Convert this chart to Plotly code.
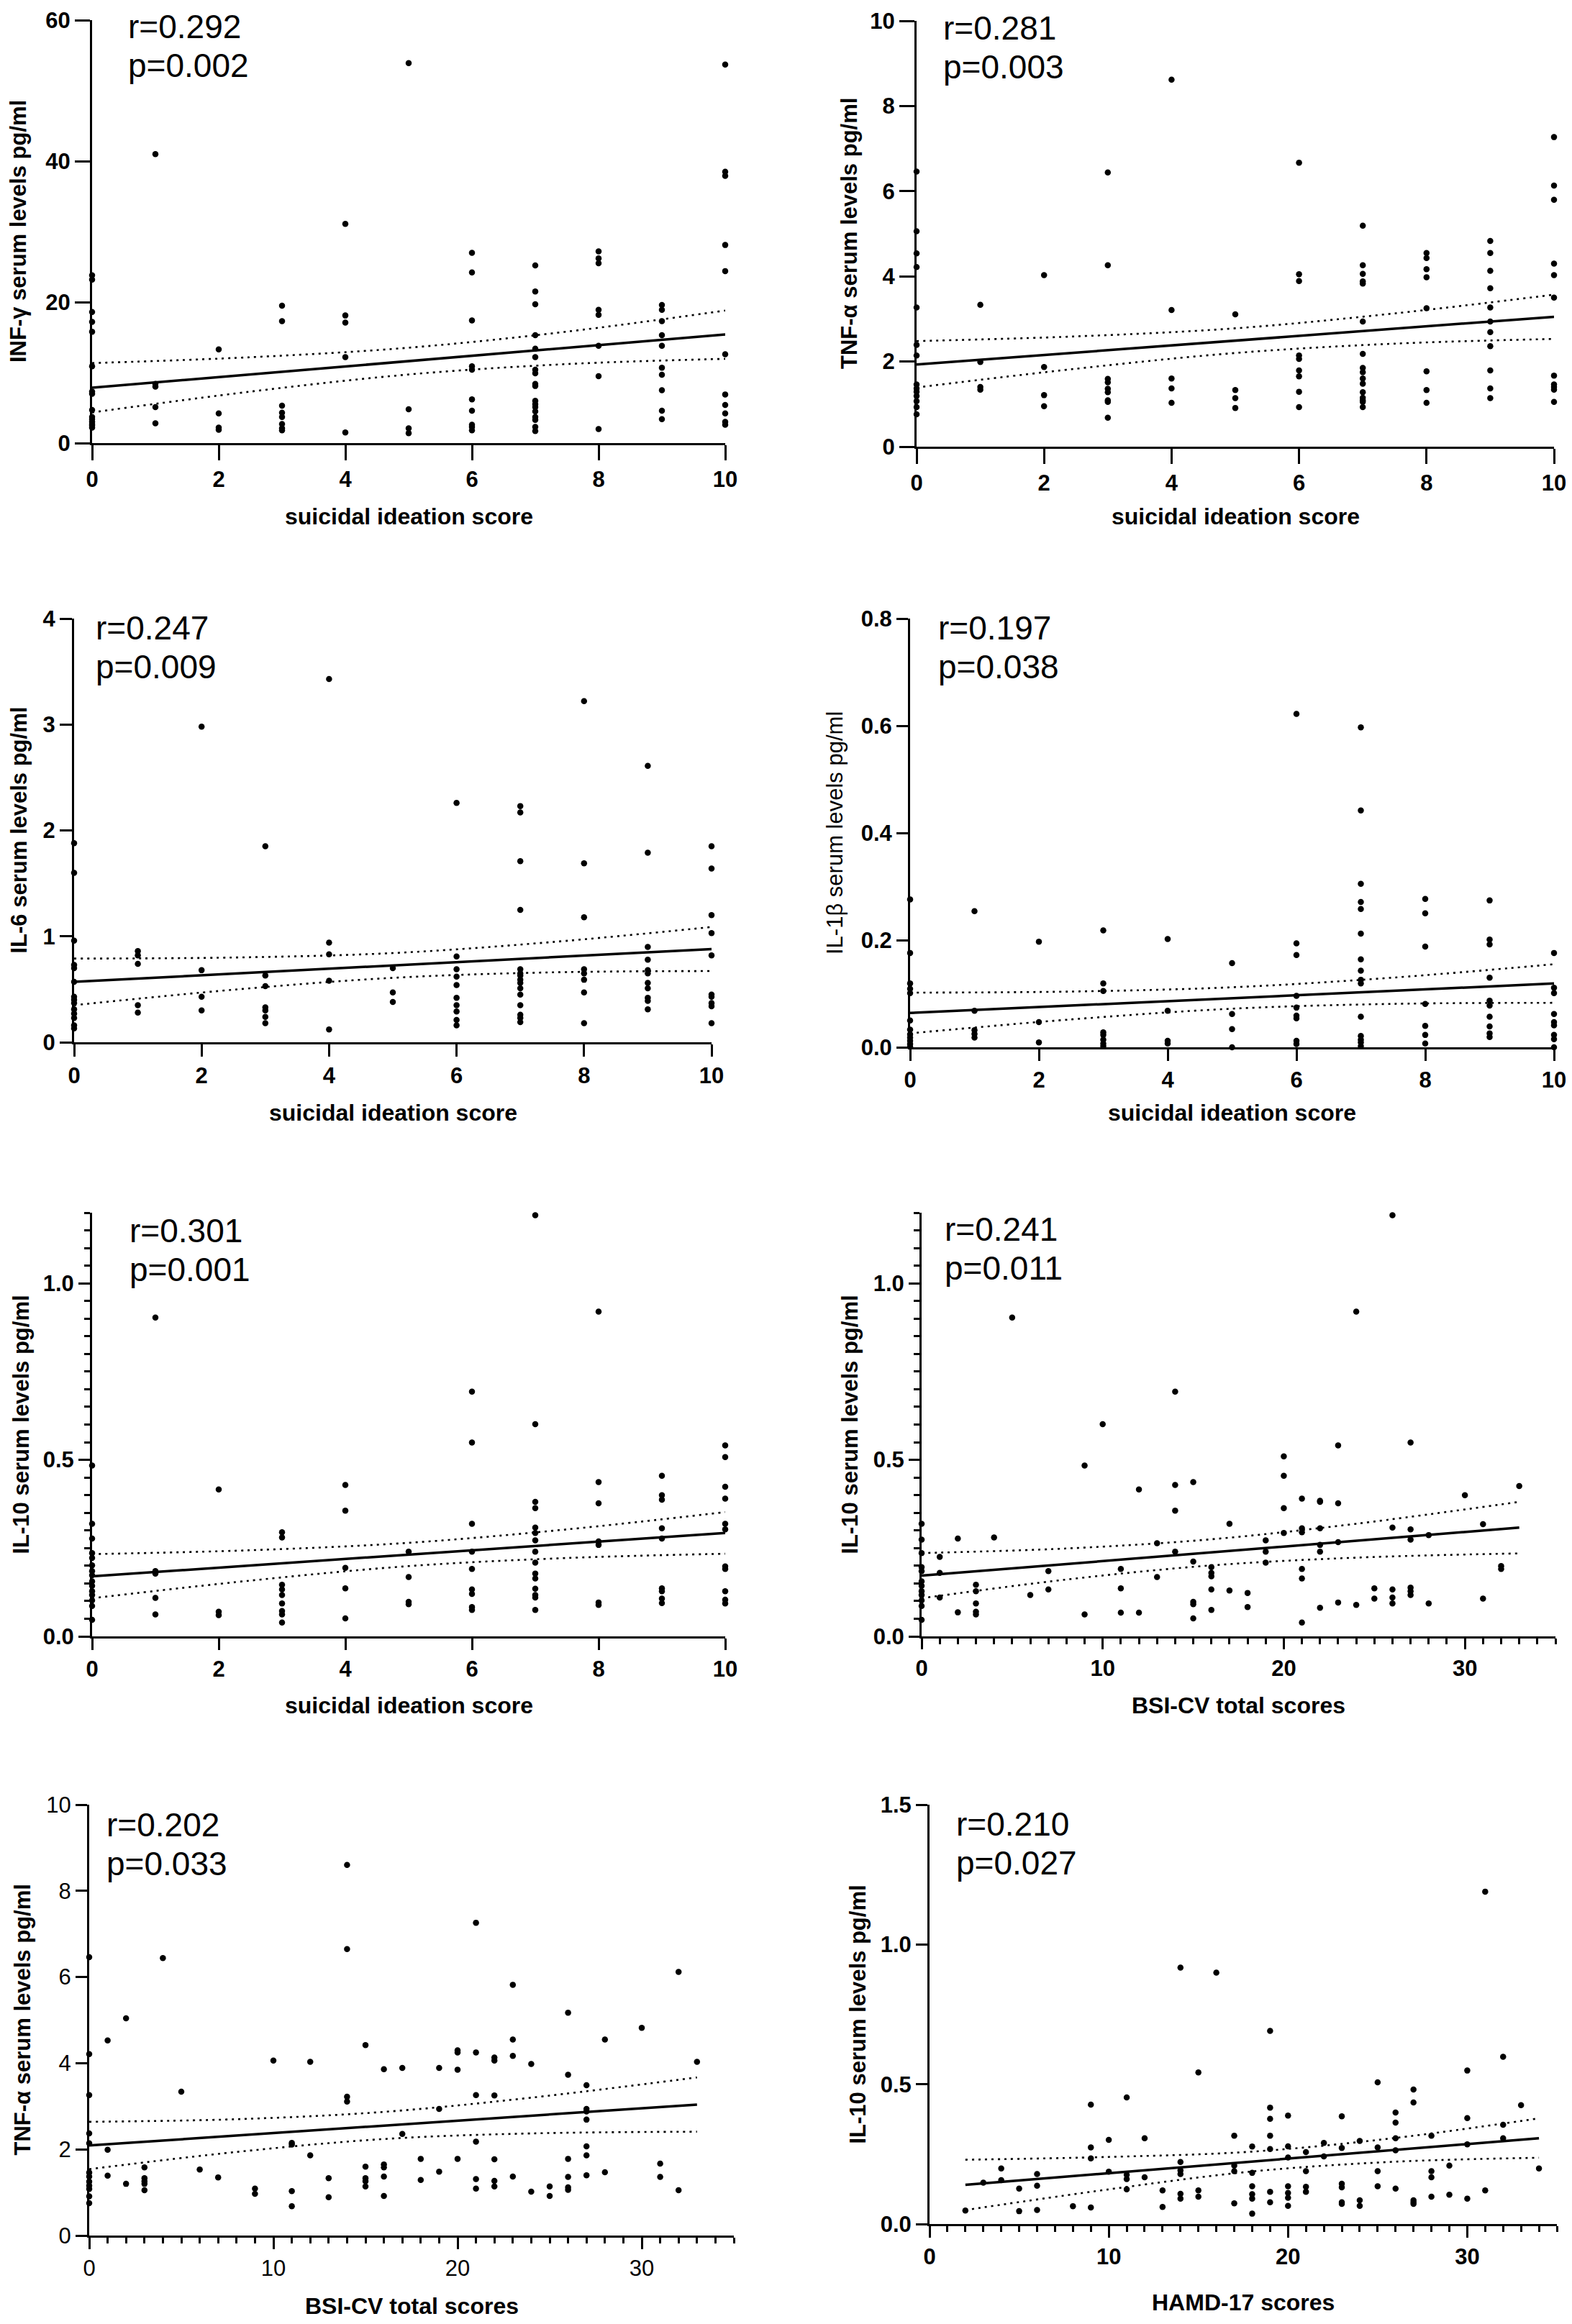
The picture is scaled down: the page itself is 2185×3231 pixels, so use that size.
import plotly.graph_objects as go

# target picture size; the page body keeps its default 8px margin, so the
# figure is made that much smaller and every pixel position is shifted by it
W, H = 2185, 3231
OFF = 8
FIG_W, FIG_H = W - 2 * OFF, H - 2 * OFF

# ---- data (cytokine levels grouped by score) ----
si_scores = list(range(11))

ifng_by_si = [
    [23.8, 23.2, 18.6, 17.2, 15.8, 10.9, 7.3, 7.0, 4.7, 3.7, 3.4, 3.0, 2.7, 2.5, 2.2],
    [41.0, 8.4, 8.0, 5.1, 2.8],
    [13.3, 4.2, 2.2, 1.9],
    [19.5, 17.3, 5.3, 4.3, 3.7, 2.7, 2.1, 1.8],
    [31.1, 18.1, 17.1, 12.2, 1.5],
    [53.9, 4.8, 2.1, 1.4],
    [27.0, 24.2, 17.4, 10.9, 10.4, 6.2, 4.6, 2.6, 2.3, 1.8],
    [25.2, 21.5, 19.7, 15.3, 13.4, 12.2, 10.4, 9.9, 8.4, 8.1, 6.0, 5.5, 5.1, 4.5, 3.7, 3.3, 2.3, 1.7],
    [27.2, 26.2, 25.5, 18.9, 18.2, 13.8, 9.5, 2.0],
    [19.6, 18.9, 17.3, 15.3, 13.8, 10.7, 9.7, 7.5, 4.6, 3.4],
    [53.7, 38.5, 37.9, 28.1, 24.4, 12.6, 6.9, 5.4, 4.2, 3.0, 2.6],
]

tnf_by_si = [
    [6.46, 5.06, 4.54, 4.22, 3.27, 2.39, 2.14, 1.46, 1.37, 1.29, 1.19, 1.07, 0.93, 0.76],
    [3.33, 1.99, 1.40, 1.34],
    [4.03, 1.87, 1.21, 0.95],
    [6.44, 4.26, 1.59, 1.51, 1.36, 1.28, 1.09, 1.05, 0.68],
    [8.62, 3.21, 1.60, 1.37, 1.03],
    [3.11, 1.33, 1.14, 0.91],
    [6.67, 4.05, 3.89, 2.14, 2.06, 1.79, 1.65, 1.29, 0.93],
    [5.19, 4.26, 4.06, 3.88, 3.83, 2.94, 2.18, 1.85, 1.75, 1.60, 1.48, 1.28, 1.15, 1.09, 1.05, 0.93],
    [4.55, 4.43, 4.17, 3.98, 3.25, 1.77, 1.33, 1.03],
    [4.83, 4.55, 4.13, 3.72, 3.27, 2.94, 2.69, 2.36, 1.79, 1.37, 1.14],
    [7.27, 6.13, 5.80, 4.30, 4.03, 3.50, 1.67, 1.46, 1.40, 1.34, 1.05],
]

il6_by_si = [
    [1.88, 1.60, 0.96, 0.73, 0.70, 0.57, 0.43, 0.40, 0.37, 0.31, 0.27, 0.23, 0.16, 0.13],
    [0.86, 0.82, 0.74, 0.35, 0.28],
    [2.98, 0.68, 0.43, 0.30],
    [1.85, 0.63, 0.53, 0.33, 0.30, 0.24, 0.18],
    [3.43, 0.94, 0.83, 0.58, 0.12],
    [0.70, 0.47, 0.38],
    [2.26, 0.81, 0.69, 0.62, 0.54, 0.42, 0.35, 0.29, 0.21, 0.16],
    [2.23, 2.17, 1.71, 1.25, 0.69, 0.65, 0.63, 0.59, 0.56, 0.51, 0.45, 0.35, 0.26, 0.23, 0.19],
    [3.22, 1.69, 1.18, 0.69, 0.65, 0.59, 0.47, 0.18],
    [2.61, 1.79, 0.90, 0.78, 0.68, 0.65, 0.56, 0.51, 0.42, 0.39, 0.31],
    [1.85, 1.64, 1.20, 1.03, 0.82, 0.45, 0.43, 0.37, 0.34, 0.18],
]

il1b_by_si = [
    [0.276, 0.176, 0.119, 0.109, 0.101, 0.050, 0.033, 0.024, 0.018, 0.012, 0.006, 0.001],
    [0.254, 0.068, 0.032, 0.025, 0.018],
    [0.197, 0.047, 0.009],
    [0.218, 0.119, 0.105, 0.028, 0.023, 0.014, 0.007, 0.002],
    [0.202, 0.068, 0.012, 0.007],
    [0.157, 0.062, 0.034, 0.0],
    [0.622, 0.194, 0.172, 0.096, 0.074, 0.059, 0.054, 0.012, 0.006],
    [0.597, 0.442, 0.305, 0.271, 0.258, 0.212, 0.164, 0.143, 0.126, 0.119, 0.057, 0.021, 0.014, 0.009, 0.002],
    [0.277, 0.250, 0.188, 0.081, 0.040, 0.023, 0.007],
    [0.274, 0.201, 0.192, 0.130, 0.087, 0.078, 0.057, 0.039, 0.026, 0.019],
    [0.176, 0.111, 0.101, 0.062, 0.047, 0.041, 0.023, 0.015, 0.0],
]

il10_by_si = [
    [0.484, 0.319, 0.277, 0.236, 0.222, 0.201, 0.185, 0.173, 0.156, 0.143, 0.128, 0.117, 0.102, 0.086, 0.047],
    [0.903, 0.185, 0.178, 0.109, 0.062],
    [0.416, 0.070, 0.060],
    [0.295, 0.280, 0.146, 0.133, 0.117, 0.093, 0.072, 0.062, 0.039],
    [0.429, 0.356, 0.194, 0.136, 0.051],
    [0.240, 0.168, 0.098, 0.091],
    [0.693, 0.549, 0.319, 0.240, 0.191, 0.133, 0.120, 0.083, 0.075],
    [1.193, 0.601, 0.381, 0.363, 0.308, 0.293, 0.272, 0.240, 0.209, 0.178, 0.164, 0.135, 0.117, 0.110, 0.075],
    [0.920, 0.437, 0.377, 0.269, 0.259, 0.096, 0.089],
    [0.455, 0.400, 0.387, 0.306, 0.277, 0.136, 0.128, 0.107, 0.094],
    [0.541, 0.508, 0.424, 0.390, 0.319, 0.303, 0.198, 0.191, 0.128, 0.104, 0.093],
]

bsi_il10_scores = [0, 1, 2, 3, 4, 5, 6, 7, 9, 10, 11, 12, 13, 14, 15, 16, 17, 18, 19, 20,
                   21, 22, 23, 24, 25, 26, 27, 28, 30, 31, 32, 33]
bsi_il10_levels = [
    [0.319, 0.274, 0.236, 0.196, 0.185, 0.156, 0.143, 0.128, 0.117, 0.102, 0.086, 0.047],
    [0.225, 0.180, 0.110],
    [0.277, 0.068],
    [0.146, 0.128, 0.093, 0.070, 0.062],
    [0.280],
    [0.903],
    [0.117],
    [0.185, 0.133],
    [0.484, 0.062],
    [0.601],
    [0.191, 0.136, 0.067],
    [0.416, 0.067],
    [0.264, 0.168],
    [0.693, 0.429, 0.356, 0.240],
    [0.437, 0.212, 0.098, 0.091, 0.051],
    [0.196, 0.180, 0.170, 0.133, 0.075],
    [0.319, 0.130],
    [0.123, 0.083],
    [0.272, 0.240, 0.209],
    [0.510, 0.455, 0.363, 0.293],
    [0.390, 0.306, 0.295, 0.191, 0.164, 0.039],
    [0.384, 0.381, 0.306, 0.259, 0.240, 0.081],
    [0.541, 0.377, 0.267, 0.096],
    [0.920, 0.089],
    [0.136, 0.107],
    [1.193, 0.308, 0.133, 0.110, 0.093],
    [0.549, 0.303, 0.274, 0.138, 0.128, 0.117],
    [0.287, 0.093],
    [0.400],
    [0.318, 0.107],
    [0.199, 0.191],
    [0.426],
]

bsi_tnf_scores = [0, 1, 2, 3, 4, 5, 6, 7, 9, 10, 11, 12, 13, 14, 15, 16, 17, 18, 19, 20,
                  21, 22, 23, 24, 25, 26, 27, 28, 30, 31, 32, 33]
bsi_tnf_levels = [
    [6.46, 4.21, 3.26, 2.37, 2.14, 1.46, 1.37, 1.25, 1.16, 1.08, 0.91, 0.75],
    [4.53, 1.99, 1.39],
    [5.04, 1.20],
    [1.58, 1.33, 1.26, 1.20, 1.05],
    [6.44],
    [3.34],
    [1.53],
    [1.35],
    [1.09, 0.97],
    [4.06],
    [2.15, 2.11, 1.03, 0.68],
    [4.03, 1.86],
    [1.33, 0.89],
    [8.60, 6.65, 3.22, 3.11],
    [4.42, 1.60, 1.33, 1.26, 1.14],
    [3.86, 1.65, 1.58, 1.37, 0.92],
    [3.89, 2.36],
    [1.78, 1.29],
    [3.89, 2.94, 1.48],
    [4.30, 4.25, 3.85, 1.78],
    [7.26, 4.25, 3.26, 2.18, 1.31, 1.09],
    [4.13, 4.06, 3.25, 1.77, 1.27, 1.14],
    [5.82, 4.55, 4.17, 1.37],
    [3.98, 1.02],
    [1.14, 0.92],
    [5.17, 3.73, 1.78, 1.36, 1.12, 1.06],
    [3.49, 2.94, 2.88, 2.69, 2.07, 1.86, 1.40],
    [4.55, 1.47],
    [4.82],
    [1.67, 1.36],
    [6.12, 1.05],
    [4.03],
]

hamd_il10_scores = [2, 3, 4, 5, 6, 8, 9, 10, 11, 12, 13, 14, 15, 16, 17, 18, 19, 20, 21, 22,
                    23, 24, 25, 26, 27, 28, 29, 30, 31, 32, 33, 34]
hamd_il10_levels = [
    [0.048],
    [0.148],
    [0.199, 0.157],
    [0.127, 0.046],
    [0.179, 0.137, 0.050],
    [0.064],
    [0.427, 0.274, 0.235, 0.059],
    [0.301, 0.187],
    [0.453, 0.176, 0.161, 0.124],
    [0.307, 0.167],
    [0.120, 0.061],
    [0.917, 0.222, 0.192, 0.179, 0.108, 0.091],
    [0.542, 0.120, 0.098],
    [0.899],
    [0.316, 0.209, 0.189, 0.074],
    [0.277, 0.183, 0.135, 0.107, 0.091, 0.037],
    [0.691, 0.416, 0.376, 0.316, 0.268, 0.115, 0.078],
    [0.388, 0.278, 0.238, 0.135, 0.111, 0.094, 0.065],
    [0.257, 0.189, 0.133, 0.115],
    [0.290, 0.242],
    [0.385, 0.272, 0.144, 0.131, 0.078, 0.072],
    [0.297, 0.085, 0.065],
    [0.507, 0.274, 0.189, 0.135],
    [0.399, 0.363, 0.307, 0.264, 0.127],
    [0.481, 0.435, 0.085, 0.078, 0.072],
    [0.316, 0.189, 0.167, 0.098],
    [0.209, 0.105],
    [0.549, 0.379, 0.285, 0.091],
    [1.189, 0.120],
    [0.598, 0.355, 0.307],
    [0.425],
    [0.199],
]

# ---- regression line and 95% band at a few scores ----
si_fit_x = [0, 2.5, 5, 7.5, 10]
bsi_fit_x = [0, 8, 16, 24, 33]
hamd_fit_x = [2, 10, 18, 26, 34]

ifng_fit = [7.85, 9.74, 11.63, 13.51, 15.40]
ifng_upper = [11.35, 12.18, 13.53, 15.81, 18.80]
ifng_lower = [4.35, 7.30, 9.73, 11.21, 11.95]

tnf_fit = [1.93, 2.21, 2.49, 2.77, 3.05]
tnf_upper = [2.48, 2.59, 2.78, 3.13, 3.57]
tnf_lower = [1.39, 1.83, 2.20, 2.42, 2.53]

il6_fit = [0.570, 0.648, 0.725, 0.803, 0.880]
il6_upper = [0.790, 0.800, 0.842, 0.946, 1.088]
il6_lower = [0.350, 0.496, 0.608, 0.660, 0.672]

il1b_fit = [0.064, 0.078, 0.092, 0.105, 0.119]
il1b_upper = [0.102, 0.104, 0.112, 0.130, 0.155]
il1b_lower = [0.026, 0.052, 0.072, 0.081, 0.083]

il10_si_fit = [0.170, 0.201, 0.232, 0.262, 0.293]
il10_si_upper = [0.233, 0.244, 0.265, 0.303, 0.352]
il10_si_lower = [0.108, 0.158, 0.199, 0.222, 0.234]

il10_bsi_fit = [0.172, 0.205, 0.238, 0.271, 0.308]
il10_bsi_upper = [0.236, 0.249, 0.275, 0.319, 0.381]
il10_bsi_lower = [0.108, 0.161, 0.201, 0.223, 0.235]

tnf_bsi_fit = [2.09, 2.32, 2.55, 2.78, 3.04]
tnf_bsi_upper = [2.64, 2.70, 2.87, 3.20, 3.67]
tnf_bsi_lower = [1.54, 1.94, 2.24, 2.37, 2.41]

il10_hamd_fit = [0.140, 0.182, 0.224, 0.265, 0.307]
il10_hamd_upper = [0.230, 0.240, 0.259, 0.308, 0.378]
il10_hamd_lower = [0.050, 0.124, 0.188, 0.223, 0.237]

r_text = ["r=0.292", "r=0.281", "r=0.247", "r=0.197", "r=0.301", "r=0.241", "r=0.202", "r=0.210"]
p_text = ["p=0.002", "p=0.003", "p=0.009", "p=0.038", "p=0.001", "p=0.011", "p=0.033", "p=0.027"]

y_titles = ["INF-γ serum levels pg/ml", "TNF-α serum levels pg/ml", "IL-6 serum levels pg/ml",
            "IL-1β serum levels pg/ml", "IL-10 serum levels pg/ml", "IL-10 serum levels pg/ml",
            "TNF-α serum levels pg/ml", "IL-10 serum levels pg/ml"]
x_titles = ["suicidal ideation score"] * 5 + ["BSI-CV total scores", "BSI-CV total scores",
                                             "HAMD-17 scores"]

FONT = "Liberation Sans, Arial, Helvetica, sans-serif"


def flatten(scores, levels):
    xs, ys = [], []
    for s, vals in zip(scores, levels):
        xs += [s] * len(vals)
        ys += vals
    return xs, ys


def px_x(px):
    return (px - OFF) / FIG_W


def px_y(py):
    return 1 - (py - OFF) / FIG_H


# panel boxes in pixels of the final picture: left, right, top, bottom of the axes
panels = [
    dict(data=(si_scores, ifng_by_si), fit=(si_fit_x, ifng_fit, ifng_lower, ifng_upper),
         box=(128, 1008, 28, 616), xr=[0, 10], xd=2, yr=[0, 60], yd=20,
         tl=21, ann=(176, 37), ytx=26, xty=718),
    dict(data=(si_scores, tnf_by_si), fit=(si_fit_x, tnf_fit, tnf_lower, tnf_upper),
         box=(1274, 2160, 29, 621), xr=[0, 10], xd=2, yr=[0, 10], yd=2,
         tl=21, ann=(1309, 39), ytx=1181, xty=718),
    dict(data=(si_scores, il6_by_si), fit=(si_fit_x, il6_fit, il6_lower, il6_upper),
         box=(103, 989, 860, 1449), xr=[0, 10], xd=2, yr=[0, 4], yd=1,
         tl=17, ann=(131, 873), ytx=26, xty=1547),
    dict(data=(si_scores, il1b_by_si), fit=(si_fit_x, il1b_fit, il1b_lower, il1b_upper),
         box=(1265, 2160, 860, 1456), xr=[0, 10], xd=2, yr=[0, 0.8], yd=0.2,
         tl=16, ann=(1302, 873), ytx=1160, xty=1547, yfmt=".1f", ytitle_bold=False),
    dict(data=(si_scores, il10_by_si), fit=(si_fit_x, il10_si_fit, il10_si_lower, il10_si_upper),
         box=(128, 1008, 1686, 2275), xr=[0, 10], xd=2, yr=[0, 1.2], yd=0.5,
         tl=16, ann=(178, 1711), ytx=29, xty=2371, yfmt=".1f", yminor=0.05),
    dict(data=(bsi_il10_scores, bsi_il10_levels),
         fit=(bsi_fit_x, il10_bsi_fit, il10_bsi_lower, il10_bsi_upper),
         box=(1281, 2162, 1686, 2275), xr=[0, 35], xd=10,
         yr=[0, 1.2], yd=0.5, tl=15, ann=(1311, 1709), ytx=1181, xty=2371, yfmt=".1f",
         yminor=0.05, xminor=1),
    dict(data=(bsi_tnf_scores, bsi_tnf_levels),
         fit=(bsi_fit_x, tnf_bsi_fit, tnf_bsi_lower, tnf_bsi_upper),
         box=(124, 1020, 2509, 3108), xr=[0, 35], xd=10,
         yr=[0, 10], yd=2, tl=16, ann=(146, 2537), ytx=31, xty=3206, xminor=1, tick_bold=False),
    dict(data=(hamd_il10_scores, hamd_il10_levels),
         fit=(hamd_fit_x, il10_hamd_fit, il10_hamd_lower, il10_hamd_upper),
         box=(1292, 2164, 2509, 3092), xr=[0, 35], xd=10,
         yr=[0, 1.5], yd=0.5, tl=16, ann=(1327, 2536), ytx=1192, xty=3201, yfmt=".1f",
         xminor=1),
]

fig = go.Figure()
layout = dict(width=FIG_W, height=FIG_H, margin=dict(l=0, r=0, t=0, b=0, autoexpand=False),
              showlegend=False, plot_bgcolor="white", paper_bgcolor="white", annotations=[])

for i, p in enumerate(panels):
    k = "" if i == 0 else str(i + 1)
    xa, ya = "x" + k, "y" + k
    x, y = flatten(*p["data"])
    fx, fit, lo, hi = p["fit"]

    for band in (lo, hi):
        fig.add_trace(go.Scatter(x=fx, y=band, mode="lines", xaxis=xa, yaxis=ya,
                                 line=dict(color="black", width=2.6, dash="3px,6px",
                                           shape="spline", smoothing=1.0),
                                 hoverinfo="skip", cliponaxis=False))
    fig.add_trace(go.Scatter(x=fx, y=fit, mode="lines", xaxis=xa, yaxis=ya,
                             line=dict(color="black", width=3.5), cliponaxis=False))
    fig.add_trace(go.Scatter(x=x, y=y, mode="markers", xaxis=xa, yaxis=ya, cliponaxis=False,
                             marker=dict(color="black", size=8.5, line=dict(width=0))))

    l, r, t, b = p["box"]
    tick_font = dict(family=FONT, size=31, color="black",
                     weight="bold" if p.get("tick_bold", True) else "normal")
    common = dict(showline=True, linecolor="black", linewidth=3, ticks="outside",
                  ticklen=p["tl"], tickwidth=3, tickcolor="black", showgrid=False,
                  zeroline=False, tickfont=tick_font, fixedrange=True, automargin=False,
                  ticklabeloverflow="allow")
    xaxis = dict(common, domain=[px_x(l), px_x(r)], range=p["xr"], tick0=0, dtick=p["xd"],
                 anchor=ya)
    yaxis = dict(common, domain=[px_y(b), px_y(t)], range=p["yr"], tick0=0, dtick=p["yd"],
                 anchor=xa, tickformat=p.get("yfmt", ""))
    if "xminor" in p:
        xaxis["minor"] = dict(dtick=p["xminor"], ticks="outside", ticklen=8, tickwidth=3,
                              tickcolor="black", showgrid=False)
    if "yminor" in p:
        yaxis["minor"] = dict(dtick=p["yminor"], ticks="outside", ticklen=8, tickwidth=3,
                              tickcolor="black", showgrid=False)
    layout["xaxis" + k] = xaxis
    layout["yaxis" + k] = yaxis

    ax, ay = p["ann"]
    for txt, cy in ((r_text[i], ay), (p_text[i], ay + 54)):
        layout["annotations"].append(dict(
            text=txt, xref="paper", yref="paper", x=px_x(ax), y=px_y(cy),
            xanchor="left", yanchor="middle", showarrow=False, align="left",
            font=dict(family=FONT, size=46, color="black")))
    layout["annotations"].append(dict(
        text=y_titles[i], xref="paper", yref="paper", x=px_x(p["ytx"]), y=px_y((t + b) / 2),
        xanchor="center", yanchor="middle", textangle=-90, showarrow=False,
        font=dict(family=FONT, size=31, color="black",
                  weight="bold" if p.get("ytitle_bold", True) else "normal")))
    layout["annotations"].append(dict(
        text=x_titles[i], xref="paper", yref="paper", x=px_x((l + r) / 2), y=px_y(p["xty"]),
        xanchor="center", yanchor="middle", showarrow=False,
        font=dict(family=FONT, size=32, color="black", weight="bold")))

fig.update_layout(**layout)
fig.write_html("out.html")
